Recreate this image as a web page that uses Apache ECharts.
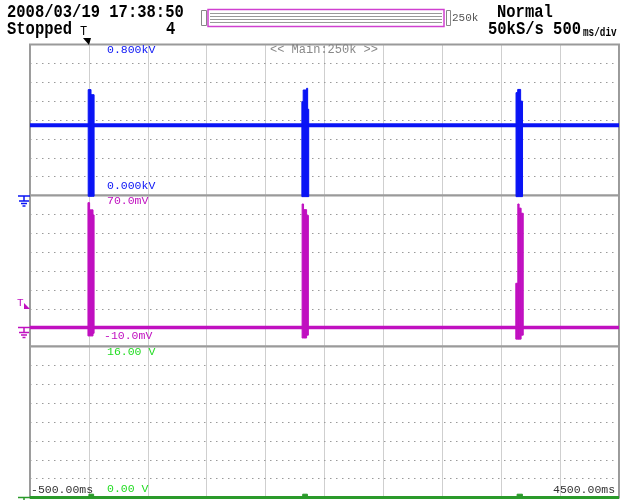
<!DOCTYPE html>
<html><head><meta charset="utf-8">
<script src="https://cdn.jsdelivr.net/npm/echarts@6/dist/echarts.min.js"></script>
<style>html,body{margin:0;padding:0;background:#fff}#c{width:621px;height:500px}</style>
</head><body><div id="c"></div>
<script>
// ---- time axis (ms) ----
const timeMin = -500, timeMax = 4500, timeStep = 500;
const timeLabels = ['-500.00ms', '4500.00ms'];
// ---- channel scales ----
const ch1Range = [0, 0.8];   const ch1Labels = ['0.800kV', '0.000kV'];
const ch2Range = [-10, 70];  const ch2Labels = ['70.0mV', '-10.0mV'];
const ch3Range = [0, 16];    const ch3Labels = ['16.00 V', '0.00 V'];
// ---- header texts ----
const headerDate = '2008/03/19 17:38:50';
const headerState = 'Stopped';
const headerCount = '4';
const headerMode = 'Normal';
const headerRate = '50kS/s 500';
const headerDiv = 'ms/div';
const headerMem = '250k';
const zoomLabel = '<< Main:250k >>';
// ---- baselines [time ms, value] ----
const ch1Base = [[-500, 0.372], [4500, 0.372]];
const ch2Base = [[-500, 0.1], [4500, 0.1]];
const ch3Base = [[-500, 0.0], [4500, 0.0]];
// ---- pulse envelopes [tStart, tEnd, max, min] ----
const ch1Pulses = [
  [-6, 18, 0.561, -0.004], [18, 44, 0.534, -0.004],
  [1808, 1819, 0.497, -0.006], [1819, 1848, 0.559, -0.006], [1848, 1857, 0.568, -0.006], [1857, 1866, 0.457, -0.006],
  [3626, 3640, 0.545, -0.006], [3640, 3665, 0.562, -0.006], [3665, 3681, 0.500, -0.006]
];
const ch2Pulses = [
  [-8, 6, 66.2, -4.4], [6, 35, 62.4, -4.4], [35, 44, 59.7, -3.0],
  [1810, 1822, 65.5, -5.5], [1822, 1848, 62.5, -5.5], [1848, 1863, 59.5, -4.0],
  [3624, 3641, 23.5, -6.1], [3641, 3652, 65.5, -6.1], [3652, 3669, 63.3, -6.1], [3669, 3687, 60.6, -4.0]
];
const ch3Pulses = [
  [0, 40, 0.35, 0], [1815, 1855, 0.35, 0], [3635, 3680, 0.35, 0]
];

const BLUE = '#0a14f5', MAG = '#c010c0', GREEN = '#2a9a2a', GREENTXT = '#22dd22';
const panelTops = [44.5, 195.5, 346.5], panelH = 151, L = 30, W = 589;
const ranges = [ch1Range, ch2Range, ch3Range];

function envRender(color) {
  return function (params, api) {
    const p1 = api.coord([api.value('t0'), api.value('hi')]);
    const p2 = api.coord([api.value('t1'), api.value('lo')]);
    const x = Math.min(p1[0], p2[0]), y = Math.min(p1[1], p2[1]);
    return { type: 'rect', shape: { x: x, y: y, width: Math.max(1, Math.abs(p2[0] - p1[0])), height: Math.abs(p2[1] - p1[1]) }, style: { fill: color, stroke: color, lineWidth: 1 } };
  };
}

const grids = panelTops.map(t => ({ left: L, width: W, top: t, height: panelH, show: true, borderColor: '#9a9a9a', borderWidth: 2, backgroundColor: '#fff' }));
const xAxes = panelTops.map((t, i) => ({
  type: 'value', gridIndex: i, min: timeMin, max: timeMax, interval: timeStep,
  axisLine: { show: false }, axisTick: { show: false }, axisLabel: { show: false },
  splitLine: { show: true, lineStyle: { color: '#a0a0a0', type: [1, 1], width: 1 } }
}));
const yAxes = ranges.map((r, i) => ({
  type: 'value', gridIndex: i, min: r[0], max: r[1], interval: (r[1] - r[0]) / 8,
  axisLine: { show: false }, axisTick: { show: false }, axisLabel: { show: false },
  splitLine: { show: true, lineStyle: { color: '#9a9a9a', type: [1.5, 4.5], width: 1 } }
}));

const envDims = ['t0', 't1', 'hi', 'lo'];
const series = [
  { type: 'line', xAxisIndex: 0, yAxisIndex: 0, data: ch1Base, symbol: 'none', lineStyle: { color: BLUE, width: 4 }, z: 5 },
  { type: 'line', xAxisIndex: 1, yAxisIndex: 1, data: ch2Base, symbol: 'none', lineStyle: { color: MAG, width: 3.5 }, z: 5 },
  { type: 'line', xAxisIndex: 2, yAxisIndex: 2, data: ch3Base, symbol: 'none', lineStyle: { color: GREEN, width: 3 }, z: 5, clip: false },
  { type: 'custom', xAxisIndex: 0, yAxisIndex: 0, data: ch1Pulses, dimensions: envDims, renderItem: envRender(BLUE), encode: { x: ['t0', 't1'], y: ['hi', 'lo'] }, z: 6, clip: false },
  { type: 'custom', xAxisIndex: 1, yAxisIndex: 1, data: ch2Pulses, dimensions: envDims, renderItem: envRender(MAG), encode: { x: ['t0', 't1'], y: ['hi', 'lo'] }, z: 6, clip: false },
  { type: 'custom', xAxisIndex: 2, yAxisIndex: 2, data: ch3Pulses, dimensions: envDims, renderItem: envRender(GREEN), encode: { x: ['t0', 't1'], y: ['hi', 'lo'] }, z: 6, clip: false }
];

const mono = '"Liberation Mono", "DejaVu Sans Mono", monospace';
function txt(x, y, text, color, size, el, weight) {
  return Object.assign({ type: 'text', x: x, y: y, z: 20, style: { text: text, fill: color, font: (weight || 'normal') + ' ' + size + 'px ' + mono, textVerticalAlign: 'bottom' } }, el || {});
}
function ground(x, y, color) {
  const s = { stroke: color, lineWidth: 1.5 };
  return { type: 'group', z: 20, children: [
    { type: 'line', shape: { x1: x, y1: y, x2: x + 12, y2: y }, style: s },
    { type: 'line', shape: { x1: x + 6, y1: y, x2: x + 6, y2: y + 5 }, style: s },
    { type: 'line', shape: { x1: x + 1, y1: y + 5, x2: x + 11, y2: y + 5 }, style: s },
    { type: 'line', shape: { x1: x + 3, y1: y + 7.5, x2: x + 9, y2: y + 7.5 }, style: s },
    { type: 'line', shape: { x1: x + 4.5, y1: y + 10, x2: x + 7.5, y2: y + 10 }, style: s }
  ] };
}
const HS = { scaleY: 1.2, originX: 0, originY: 0 };

const graphic = [
  txt(7, 22, headerDate, '#000', 15.5, HS, 'bold'),
  txt(7, 39, headerState, '#000', 15.5, HS, 'bold'),
  txt(166, 39, headerCount, '#000', 15.5, HS, 'bold'),
  txt(497, 22, headerMode, '#000', 15.5, HS, 'bold'),
  txt(488, 39, headerRate, '#000', 15.5, HS, 'bold'),
  txt(583, 39, headerDiv, '#000', 11, { scaleX: 0.85, scaleY: 1.2, originX: 0, originY: 0 }, 'bold'),
  txt(452, 24, headerMem, '#555', 11),
  // trigger marker on top
  txt(80, 38, 'T', '#000', 12),
  { type: 'polygon', z: 20, shape: { points: [[83, 38], [91, 38], [89, 45]] }, style: { fill: '#000' } },
  // memory bar
  { type: 'rect', z: 20, shape: { x: 201.5, y: 10.5, width: 5, height: 15 }, style: { fill: '#fff', stroke: '#888', lineWidth: 1 } },
  { type: 'rect', z: 20, shape: { x: 446.5, y: 10.5, width: 4, height: 15 }, style: { fill: '#fff', stroke: '#888', lineWidth: 1 } },
  { type: 'rect', z: 20, shape: { x: 208, y: 9.5, width: 236, height: 17 }, style: { fill: '#fff', stroke: '#d040d0', lineWidth: 1.5 } },
  { type: 'line', z: 21, shape: { x1: 210, y1: 13.5, x2: 442, y2: 13.5 }, style: { stroke: '#999', lineWidth: 1 } },
  { type: 'line', z: 21, shape: { x1: 210, y1: 16.5, x2: 442, y2: 16.5 }, style: { stroke: '#999', lineWidth: 1 } },
  { type: 'line', z: 21, shape: { x1: 210, y1: 19.5, x2: 442, y2: 19.5 }, style: { stroke: '#999', lineWidth: 1 } },
  { type: 'line', z: 21, shape: { x1: 210, y1: 22.5, x2: 442, y2: 22.5 }, style: { stroke: '#999', lineWidth: 1 } },
  // panel labels
  txt(107, 56, ch1Labels[0], BLUE, 11.5),
  txt(270, 56, zoomLabel, '#888', 12),
  txt(107, 192, ch1Labels[1], BLUE, 11.5),
  txt(107, 207, ch2Labels[0], MAG, 11.5),
  txt(104, 342, ch2Labels[1], MAG, 11.5),
  txt(107, 357.5, ch3Labels[0], GREENTXT, 11.5),
  txt(107, 494.5, ch3Labels[1], GREENTXT, 11.5),
  txt(31, 496, timeLabels[0], '#333', 11.5),
  txt(553, 496, timeLabels[1], '#333', 11.5),
  // ground / trigger markers
  ground(18, 196, BLUE),
  ground(18, 327.5, MAG),
  ground(18, 497.5, GREEN),
  txt(17, 309, 'T', MAG, 11),
  { type: 'polygon', z: 20, shape: { points: [[24, 303], [24, 309], [30, 309]] }, style: { fill: MAG } }
];

const chart = echarts.init(document.getElementById('c'), null, { renderer: 'canvas' });
chart.setOption({ animation: false, backgroundColor: '#fff', grid: grids, xAxis: xAxes, yAxis: yAxes, series: series, graphic: graphic });
</script></body></html>
